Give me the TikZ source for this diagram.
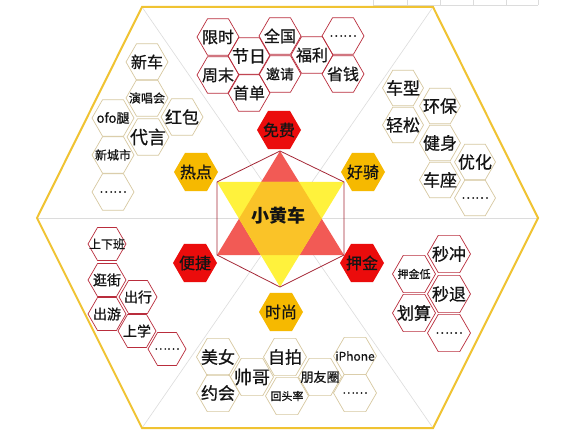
\documentclass[tikz,border=0pt]{standalone}
\usepackage{fontspec}
\setmainfont{Noto Sans CJK SC}
\newfontfamily\cjkmed[RawFeature={embolden=0.7}]{Noto Sans CJK SC}
\usetikzlibrary{shapes.geometric}
\definecolor{hexred}{RGB}{185,45,60}
\definecolor{hextan}{RGB}{215,200,160}
\definecolor{goldline}{RGB}{240,195,50}
\definecolor{grayline}{RGB}{220,220,220}
\definecolor{hred}{RGB}{235,12,12}
\definecolor{hgold}{RGB}{246,185,0}
\definecolor{starred}{RGB}{242,90,85}
\definecolor{staryellow}{RGB}{255,242,60}
\definecolor{starorange}{RGB}{250,195,40}
\definecolor{innerline}{RGB}{165,40,55}
\definecolor{txt}{RGB}{20,20,20}
\newcommand\myfs[1]{\fontsize{#1}{#1}\selectfont}
\newcommand\zb[1]{\makebox[0pt]{#1}}
\tikzset{
  hx/.style={shape=regular polygon, regular polygon sides=6, inner sep=0pt,
             minimum size=#1, line width=0.7pt, text=txt, font=\cjkmed\myfs{16}},
  hr/.style={hx=#1, draw=hexred},
  ht/.style={hx=#1, draw=hextan},
  bighex/.style={hx=44pt, draw=none},
  fsz/.style={font=\cjkmed\myfs{#1}},
  grid/.style={draw=grayline, line width=0.8pt},
  divline/.style={draw=grayline, line width=0.6pt},
  outerhex/.style={draw=goldline, line width=2pt, line join=miter},
}
\begin{document}
\begin{tikzpicture}[x=1pt,y=-1pt]
\useasboundingbox[fill=white] (0,0) rectangle (561,435);

% screenshot grid cells at top right
\coordinate (g0b) at (373,5);
\coordinate (g5b) at (538,5);
\draw[grid] (g0b) -- (g5b);
\foreach \gx in {373,407,440,473,506,538} {\draw[grid] (\gx,0) -- (\gx,5);}

% outer hexagon corners
\coordinate (oTL) at (142,7);
\coordinate (oTR) at (433,7);
\coordinate (oR)  at (538,218);
\coordinate (oBR) at (433,428);
\coordinate (oBL) at (142,428);
\coordinate (oL)  at (37,218);

% dividing lines
\draw[divline] (oL) -- (oR);
\draw[divline] (oTL) -- (oBR);
\draw[divline] (oTR) -- (oBL);

\draw[outerhex] (oTL) -- (oTR) -- (oR) -- (oBR) -- (oBL) -- (oL) -- cycle;

% central star
\coordinate (iT)  at (280,151);
\coordinate (iTR) at (344,182);
\coordinate (iBR) at (344,255);
\coordinate (iB)  at (280,287);
\coordinate (iBL) at (217,255);
\coordinate (iTL) at (217,182);
\fill[starred] (iT) -- (iBR) -- (iBL) -- cycle;
\fill[staryellow] (iB) -- (iTL) -- (iTR) -- cycle;
\begin{scope}
  \clip (iT) -- (iBR) -- (iBL) -- cycle;
  \fill[starorange] (iB) -- (iTL) -- (iTR) -- cycle;
\end{scope}
\draw[innerline, line width=0.8pt] (iT) -- (iTR) -- (iBR) -- (iB) -- (iBL) -- (iTL) -- cycle;
\node[font=\bfseries\myfs{18}, text=txt, inner sep=0pt] (center) at (278,216) {小黄车};

% six coloured hexagons
\node[bighex, fill=hred]  (c1) at (279,130) {\zb{免费}};
\node[bighex, fill=hgold] (c2) at (363,172) {\zb{好骑}};
\node[bighex, fill=hred]  (c3) at (362,263) {\zb{押金}};
\node[bighex, fill=hgold] (c4) at (281,312) {\zb{时尚}};
\node[bighex, fill=hred]  (c5) at (195,263) {\zb{便捷}};
\node[bighex, fill=hgold] (c6) at (196,172) {\zb{热点}};

% top cluster (免费)
\node[hr=42pt] (t1) at (218,37) {\zb{限时}};
\node[hr=42pt] (t2) at (218,75) {\zb{周末}};
\node[hr=42pt, fsz=17] (t3) at (249,56) {\zb{节日}};
\node[hr=42pt] (t4) at (249,93) {\zb{首单}};
\node[hr=42pt] (t5) at (280,36) {\zb{全国}};
\node[hr=42pt, fsz=14] (t6) at (280,74) {\zb{邀请}};
\node[hr=42pt] (t7) at (312,55) {\zb{福利}};
\node[hr=42pt, fsz=13] (t8) at (343,36) {\zb{……}};
\node[hr=42pt] (t9) at (343,74) {\zb{省钱}};

% upper-left cluster (热点)
\node[ht=42pt] (l1) at (147,62) {\zb{新车}};
\node[ht=42pt, fsz=12] (l2) at (147,98) {\zb{演唱会}};
\node[ht=42pt, fsz=13] (l3) at (113,118) {\zb{ofo腿}};
\node[ht=42pt, fsz=17] (l4) at (182,117) {\zb{红包}};
\node[ht=42pt, fsz=18] (l5) at (148,137) {\zb{代言}};
\node[ht=42pt, fsz=12] (l6) at (113,155) {\zb{新城市}};
\node[ht=42pt, fsz=13] (l7) at (113,192) {\zb{……}};

% upper-right cluster (好骑)
\node[ht=41pt, fsz=17] (r1) at (403,88) {\zb{车型}};
\node[ht=41pt, fsz=17] (r2) at (440,106) {\zb{环保}};
\node[ht=41pt, fsz=17] (r3) at (403,125) {\zb{轻松}};
\node[ht=41pt, fsz=17] (r4) at (440,143) {\zb{健身}};
\node[ht=41pt, fsz=17] (r5) at (475,162) {\zb{优化}};
\node[ht=41pt, fsz=17] (r6) at (440,180) {\zb{车座}};
\node[ht=41pt, fsz=13] (r7) at (475,198) {\zb{……}};

% lower-left cluster (便捷)
\node[hr=38pt, fsz=12] (b1) at (107,244) {\zb{上下班}};
\node[hr=38pt, fsz=14] (b2) at (107,280) {\zb{逛街}};
\node[hr=38pt, fsz=14] (b3) at (107,314) {\zb{出游}};
\node[hr=38pt, fsz=14] (b4) at (138,297) {\zb{出行}};
\node[hr=38pt, fsz=14] (b5) at (137,331) {\zb{上学}};
\node[hr=38pt, fsz=12] (b6) at (167,349) {\zb{……}};

% bottom cluster (时尚)
\node[ht=43pt, fsz=17] (s1) at (218,357) {\zb{美女}};
\node[ht=43pt, fsz=17] (s2) at (218,393) {\zb{约会}};
\node[ht=43pt, fsz=18] (s3) at (252,377) {\zb{帅哥}};
\node[ht=43pt, fsz=17] (s4) at (285,357) {\zb{自拍}};
\node[ht=43pt, fsz=11] (s5) at (287,396) {\zb{回头率}};
\node[ht=43pt, fsz=13] (s6) at (320,377) {\zb{朋友圈}};
\node[ht=43pt, fsz=12] (s7) at (355,356) {\zb{iPhone}};
\node[ht=43pt, fsz=12] (s8) at (355,393) {\zb{……}};

% lower-right cluster (押金)
\node[hr=43pt, fsz=17] (e1) at (449,254) {\zb{秒冲}};
\node[hr=43pt, fsz=11] (e2) at (414,274) {\zb{押金低}};
\node[hr=43pt, fsz=17] (e3) at (449,294) {\zb{秒退}};
\node[hr=43pt, fsz=17] (e4) at (414,313) {\zb{划算}};
\node[hr=43pt, fsz=13] (e5) at (449,333) {\zb{……}};
\end{tikzpicture}
\end{document}
